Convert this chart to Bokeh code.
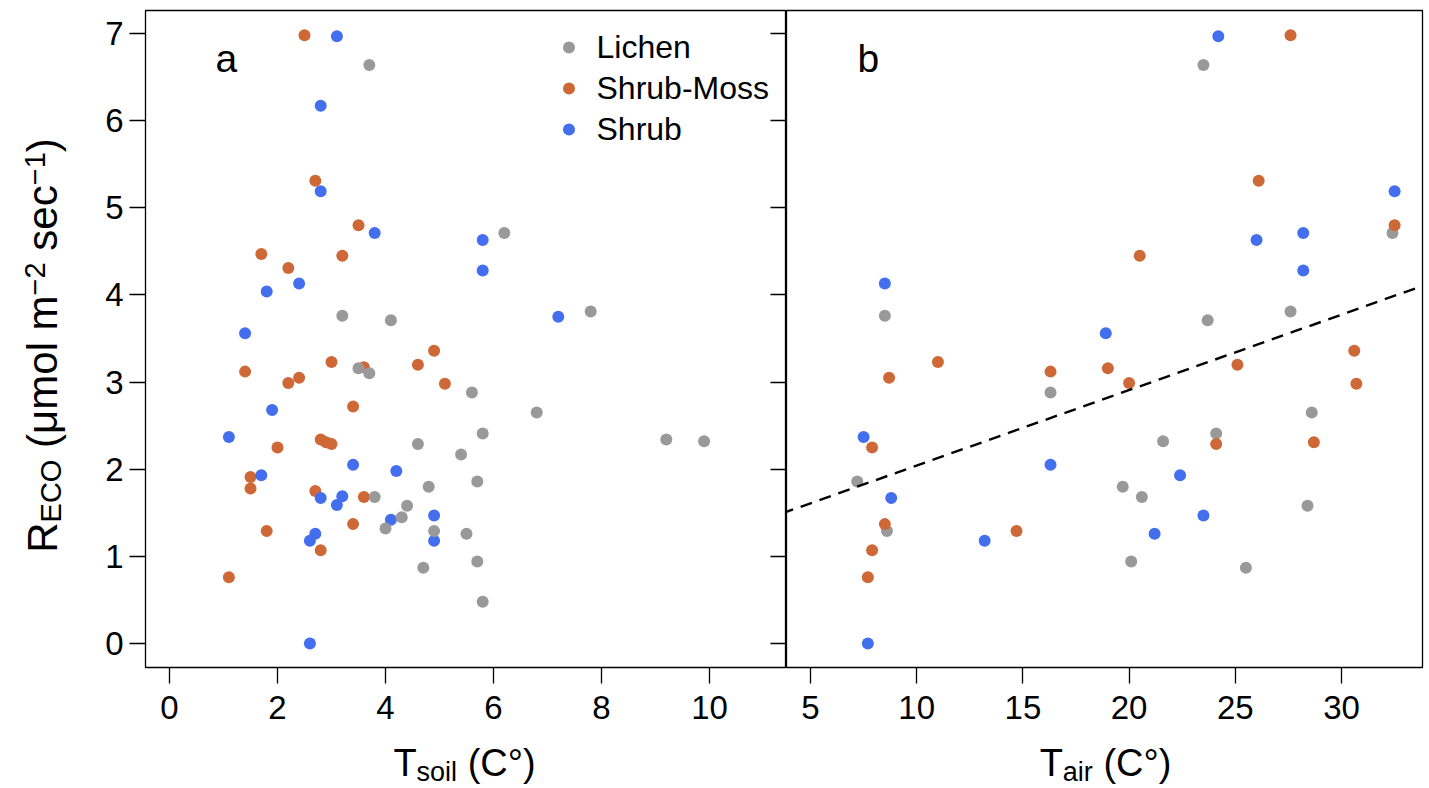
import math
from bokeh.plotting import figure
from bokeh.models import Range1d, FixedTicker, LinearAxis, Label, Legend, LegendItem, Slope
from bokeh.layouts import row, column
from bokeh.embed import file_html
from bokeh.resources import INLINE
from bokeh.core.properties import value

# ---------------- data ----------------
groups = ["Lichen", "Shrub-Moss", "Shrub"]
group_colors = ["#999999", "#CF6837", "#436EEE"]

# Panel a: RECO vs Tsoil
lichen_tsoil = [3.7, 3.2, 4.1, 6.2, 7.8, 3.5, 3.7, 5.6, 4.6, 5.4, 4.8, 3.8, 4.4, 4.3, 4.0, 4.9, 5.5, 4.7, 6.8, 5.8, 5.7, 5.7, 5.8, 9.2, 9.9]
lichen_reco_a = [6.64, 3.76, 3.71, 4.71, 3.81, 3.16, 3.10, 2.88, 2.29, 2.17, 1.80, 1.68, 1.58, 1.45, 1.32, 1.29, 1.26, 0.87, 2.65, 2.41, 1.86, 0.94, 0.48, 2.34, 2.32]

shrubmoss_tsoil = [2.5, 2.7, 3.5, 1.7, 3.2, 2.2, 1.4, 3.0, 3.6, 4.6, 4.9, 5.1, 2.2, 2.4, 3.4, 2.0, 2.8, 2.9, 3.0, 1.5, 1.5, 2.7, 3.6, 3.4, 1.8, 2.8, 1.1]
shrubmoss_reco_a = [6.98, 5.31, 4.80, 4.47, 4.45, 4.31, 3.12, 3.23, 3.17, 3.20, 3.36, 2.98, 2.99, 3.05, 2.72, 2.25, 2.34, 2.31, 2.29, 1.91, 1.78, 1.75, 1.68, 1.37, 1.29, 1.07, 0.76]

shrub_tsoil = [3.1, 2.8, 2.8, 3.8, 2.4, 1.8, 1.4, 5.8, 5.8, 7.2, 1.9, 1.1, 3.4, 4.2, 1.7, 2.8, 3.2, 3.1, 4.1, 4.9, 4.9, 2.7, 2.6, 2.6]
shrub_reco_a = [6.97, 6.17, 5.19, 4.71, 4.13, 4.04, 3.56, 4.63, 4.28, 3.75, 2.68, 2.37, 2.05, 1.98, 1.93, 1.67, 1.69, 1.59, 1.42, 1.47, 1.18, 1.26, 1.18, 0.00]

# Panel b: RECO vs Tair
lichen_tair = [8.5, 23.5, 32.4, 23.7, 27.6, 16.3, 7.2, 8.6, 28.6, 24.1, 21.6, 19.7, 20.6, 28.4, 20.1, 25.5]
lichen_reco_b = [3.76, 6.64, 4.71, 3.71, 3.81, 2.88, 1.86, 1.29, 2.65, 2.41, 2.32, 1.80, 1.68, 1.58, 0.94, 0.87]

shrubmoss_tair = [27.6, 26.1, 32.5, 20.5, 19.0, 16.3, 11.0, 8.7, 7.9, 8.5, 7.9, 7.7, 14.7, 20.0, 25.1, 30.6, 30.7, 24.1, 28.7]
shrubmoss_reco_b = [6.98, 5.31, 4.80, 4.45, 3.16, 3.12, 3.23, 3.05, 2.25, 1.37, 1.07, 0.76, 1.29, 2.99, 3.20, 3.36, 2.98, 2.29, 2.31]

shrub_tair = [8.5, 18.9, 24.2, 32.5, 26.0, 28.2, 28.2, 7.5, 8.8, 7.7, 16.3, 13.2, 22.4, 23.5, 21.2]
shrub_reco_b = [4.13, 3.56, 6.97, 5.19, 4.63, 4.71, 4.28, 2.37, 1.67, 0.00, 2.05, 1.18, 1.93, 1.47, 1.26]

# regression line in panel b (intercept, slope)
fit_intercept = 1.176
fit_slope = 0.0866

x_ticks_a = [0, 2, 4, 6, 8, 10]
x_ticks_b = [5, 10, 15, 20, 25, 30]
y_ticks = [0, 1, 2, 3, 4, 5, 6, 7]

# titles: (text, size key, level)  level 0 = normal, 1 = subscript, -1 = superscript
ytitle_pieces = [("R", "M", 0), ("ECO", "S", 1), (" ", "M", 0), ("(μmol", "M", 0), (" ", "M", 0),
                 ("m", "M", 0), ("−2", "S", -1), (" ", "M", 0), ("sec", "M", 0), ("−1", "S", -1),
                 (")", "M", 0)]
xtitle_a_pieces = [("T", "M", 0), ("soil", "S", 1), (" ", "M", 0), ("(C°)", "M", 0)]
xtitle_b_pieces = [("T", "M", 0), ("air", "S", 1), (" ", "M", 0), ("(C°)", "M", 0)]

# ---------------- style ----------------
FONT = "Liberation Sans"
TICK_FS = "33px"
K_BASE = 0.36   # correction: rendered baseline sits this many ems below the anchor
AW = {'R': 722, 'E': 667, 'C': 722, 'O': 778, ' ': 278, '(': 333, ')': 333, 'μ': 576, 'm': 833,
      'o': 556, 'l': 222, '−': 584, '2': 556, '1': 556, 's': 500, 'e': 556, 'c': 500, 'T': 611,
      'i': 222, 'a': 556, 'r': 333, '°': 400}


def tw(s, size):
    return sum(AW.get(c, 556) for c in s) * size / 1000.0


# page geometry (page origin at 0,0): frame a 145..786, frame b 786..1422, top 10, bottom 667
Y0_PX, Y_PER = 643.0, 87.14
XA0_PX, XA_PER = 169.0, 54.0
XB5_PX, XB_PER = 810.0, 21.24
YT_W = 80          # width of y-title strip
TOP_H = 736        # height of panel row
TOTAL_H = 788


def ya(py):
    return (Y0_PX - py) / Y_PER


def xa(px):
    return (px - XA0_PX) / XA_PER


def xb(px):
    return 5 + (px - XB5_PX) / XB_PER


y_range = Range1d(ya(667), ya(10))


def base_fig(width, xr, mbl, mbr):
    p = figure(width=width, height=TOP_H, x_range=xr, y_range=y_range,
               output_backend="svg", toolbar_location=None,
               min_border_left=mbl, min_border_right=mbr, min_border_top=10,
               min_border_bottom=TOP_H - 667,
               x_axis_location=None, y_axis_location=None)
    p.grid.visible = False
    p.outline_line_color = "black"
    p.outline_line_width = 1.3
    p.background_fill_color = "white"
    p.border_fill_color = "white"
    return p


def blank_fig(width, height):
    p = figure(width=width, height=height, x_range=Range1d(0, width), y_range=Range1d(0, height),
               output_backend="svg", toolbar_location=None, min_border=0,
               min_border_left=0, min_border_right=0, min_border_top=0, min_border_bottom=0,
               x_axis_location=None, y_axis_location=None)
    p.grid.visible = False
    p.outline_line_color = None
    p.background_fill_color = "white"
    p.border_fill_color = "white"
    return p


def style_axis(ax, ticks):
    ax.ticker = FixedTicker(ticks=ticks)
    ax.minor_tick_line_color = None
    ax.axis_line_color = None
    ax.major_tick_line_color = "black"
    ax.major_tick_line_width = 1.3
    ax.major_tick_in = 0
    ax.major_tick_out = 16
    ax.major_label_text_font = FONT
    ax.major_label_text_font_size = TICK_FS
    ax.major_label_text_color = "black"


# ---------------- panel a ----------------
pa = base_fig(786 - YT_W, Range1d(xa(145), xa(786)), 145 - YT_W, 0)
bx_a = LinearAxis()
style_axis(bx_a, x_ticks_a)
bx_a.major_label_standoff = 12
pa.add_layout(bx_a, "below")
ly_a = LinearAxis()
style_axis(ly_a, y_ticks)
ly_a.major_label_standoff = 6
ly_a.major_label_orientation = "horizontal"
pa.add_layout(ly_a, "left")
ry_a = LinearAxis()
style_axis(ry_a, y_ticks)
ry_a.major_tick_in = 16
ry_a.major_tick_out = 0
ry_a.major_label_overrides = {t: "" for t in y_ticks}
ry_a.major_label_standoff = 0
pa.add_layout(ry_a, "right")

r_sm = pa.scatter(shrubmoss_tsoil, shrubmoss_reco_a, size=12, color=group_colors[1], line_color=None)
r_sh = pa.scatter(shrub_tsoil, shrub_reco_a, size=12, color=group_colors[2], line_color=None)
r_li = pa.scatter(lichen_tsoil, lichen_reco_a, size=12, color=group_colors[0], line_color=None)

legend = Legend(items=[LegendItem(label=groups[0], renderers=[r_li]),
                       LegendItem(label=groups[1], renderers=[r_sm]),
                       LegendItem(label=groups[2], renderers=[r_sh])],
                location="top_right", margin=17, padding=5, spacing=1,
                glyph_width=30, glyph_height=40, label_standoff=13,
                label_text_font=FONT, label_text_font_size="32px", label_text_color="black",
                border_line_color=None, background_fill_alpha=0)
pa.add_layout(legend)

LET_FS = 39
pa.add_layout(Label(x=xa(215), y=ya(72), y_offset=K_BASE * LET_FS, text="a", text_font=FONT,
                    text_font_size=f"{LET_FS}px", text_color="black",
                    text_baseline="alphabetic", text_align="left"))

# ---------------- panel b ----------------
pb = base_fig(1427 - 786, Range1d(xb(786), xb(1422)), 0, 5)
bx_b = LinearAxis()
style_axis(bx_b, x_ticks_b)
bx_b.major_label_standoff = 12
pb.add_layout(bx_b, "below")

pb.scatter(lichen_tair, lichen_reco_b, size=12, color=group_colors[0], line_color=None)
pb.scatter(shrub_tair, shrub_reco_b, size=12, color=group_colors[2], line_color=None)
pb.scatter(shrubmoss_tair, shrubmoss_reco_b, size=12, color=group_colors[1], line_color=None)

pb.add_layout(Slope(gradient=fit_slope, y_intercept=fit_intercept, line_color="black",
                    line_width=2.4, line_dash="12 8"))

pb.add_layout(Label(x=xb(857), y=ya(72), y_offset=K_BASE * LET_FS, text="b", text_font=FONT,
                    text_font_size=f"{LET_FS}px", text_color="black",
                    text_baseline="alphabetic", text_align="left"))

# ---------------- y title strip ----------------
yt = blank_fig(YT_W, TOTAL_H)
sizes_y = {"M": 42, "S": 29}
baseline_y = {0: 57, 1: 61, -1: 45}       # page x of the text baseline
Wy = sum(tw(t, sizes_y[k]) for t, k, _ in ytitle_pieces)
y_start = (TOTAL_H - 345) - Wy / 2      # centred at page y 345
adv = 0.0
for t, k, lv in ytitle_pieces:
    s = sizes_y[k]
    if t.strip():
        yt.text(x=[baseline_y[lv] - K_BASE * s], y=[y_start + adv], text=[t], angle=math.pi / 2,
                text_font=value(FONT), text_font_size=value(f"{s}px"), text_color="black",
                text_baseline="alphabetic", text_align="left")
    adv += tw(t, s)

# ---------------- x title strip ----------------
XT_H = TOTAL_H - TOP_H
xt = blank_fig(1427 - YT_W, XT_H)
sizes_x = {"M": 38, "S": 27}
baseline_x = {0: 776, 1: 781}           # page y of the text baseline
for pieces, centre in ((xtitle_a_pieces, 464), (xtitle_b_pieces, 1105)):
    W = sum(tw(t, sizes_x[k]) for t, k, _ in pieces)
    xpos = centre - YT_W - W / 2
    for t, k, lv in pieces:
        s = sizes_x[k]
        if t.strip():
            xt.text(x=[xpos], y=[TOTAL_H - baseline_x[lv] + K_BASE * s], text=[t],
                    text_font=value(FONT), text_font_size=value(f"{s}px"), text_color="black",
                    text_baseline="alphabetic", text_align="left")
        xpos += tw(t, s)

layout = row(yt, column(row(pa, pb), xt))
open("out.html", "w").write(file_html(layout, INLINE))
